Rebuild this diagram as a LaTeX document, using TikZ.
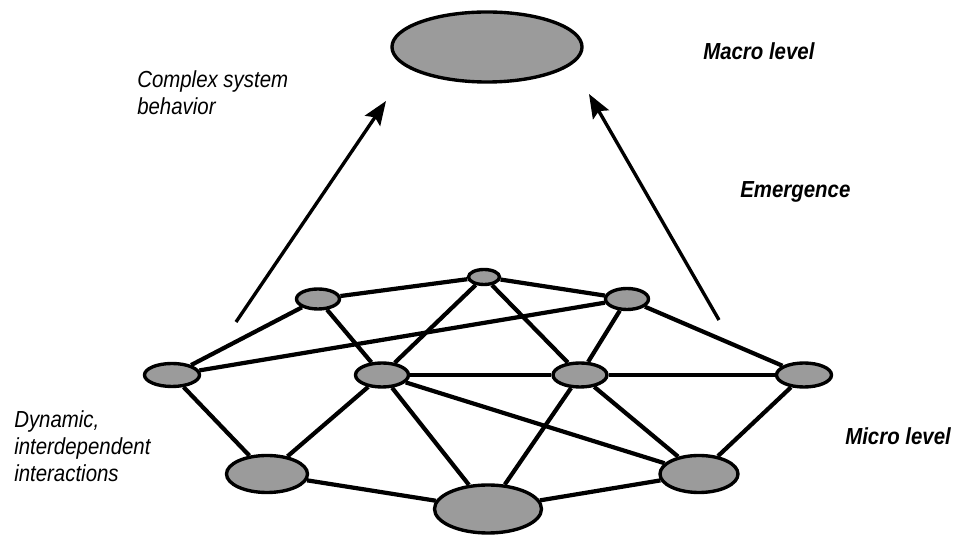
\documentclass[tikz,border=0pt]{standalone}
\usepackage{fontspec}
\setmainfont{Liberation Sans}[FakeStretch=0.88]
\usetikzlibrary{shapes.geometric,arrows.meta}

\definecolor{cellgray}{RGB}{155,155,155}

\tikzset{
    agent/.style={ellipse, draw, line width=2.4pt, fill=cellgray, inner sep=0pt},
    link/.style={line width=3pt},
    rise/.style={line width=2.4pt, -{Stealth[length=17pt, width=13pt, inset=3pt]}},
    note/.style={font=\fontsize{16.5}{19.5}\selectfont\itshape, inner sep=0pt, align=left},
    level/.style={font=\fontsize{16.5}{19.5}\selectfont\bfseries\itshape, inner sep=0pt}
}

\begin{document}
\begin{tikzpicture}[x=0.025cm, y=-0.025cm]
    \useasboundingbox (0,0) rectangle (956,536);

    % Macro level ellipse
    \node[agent, minimum width=4.75cm, minimum height=1.75cm] (macro) at (487,47) {};

    % Micro level agents
    \node[agent, minimum width=1.375cm, minimum height=0.575cm] (a) at (172,375) {};
    \node[agent, minimum width=1.075cm, minimum height=0.5cm]   (b) at (318,299) {};
    \node[agent, minimum width=0.775cm, minimum height=0.375cm] (c) at (484,277) {};
    \node[agent, minimum width=1.075cm, minimum height=0.525cm] (d) at (627,299) {};
    \node[agent, minimum width=1.325cm, minimum height=0.6cm]   (e) at (382,375) {};
    \node[agent, minimum width=1.35cm,  minimum height=0.6cm]   (f) at (580,375) {};
    \node[agent, minimum width=1.375cm, minimum height=0.6cm]   (g) at (804,375) {};
    \node[agent, minimum width=2.025cm, minimum height=0.925cm] (h) at (267,474) {};
    \node[agent, minimum width=2.675cm, minimum height=1.2cm]   (i) at (488,509) {};
    \node[agent, minimum width=1.95cm,  minimum height=0.925cm] (j) at (699,474) {};

    % Interactions
    \foreach \u/\v in {a/b, a/d, a/h, b/c, b/e, c/e, c/f, c/d, e/f, e/h, e/i, e/j,
                       h/i, i/f, i/j, d/f, d/g, f/g, f/j, g/j} {
        \draw[link] (\u) -- (\v);
    }

    % Emergence arrows
    \coordinate (lfoot) at (236,322);
    \coordinate (ltip)  at (386,101);
    \coordinate (rfoot) at (719,320);
    \coordinate (rtip)  at (589,94);
    \draw[rise] (lfoot) -- (ltip);
    \draw[rise] (rfoot) -- (rtip);

    % Labels
    \node[note, anchor=north west] (behavior) at (137,70) {Complex system\\behavior};
    \node[note, anchor=north west] (dynamic) at (14,410) {Dynamic,\\interdependent\\interactions};
    \node[level, anchor=base west] (macrolbl) at (703,60) {Macro level};
    \node[level, anchor=base west] (emerge) at (740,198) {Emergence};
    \node[level, anchor=base west] (microlbl) at (845,445) {Micro level};

\end{tikzpicture}
\end{document}
